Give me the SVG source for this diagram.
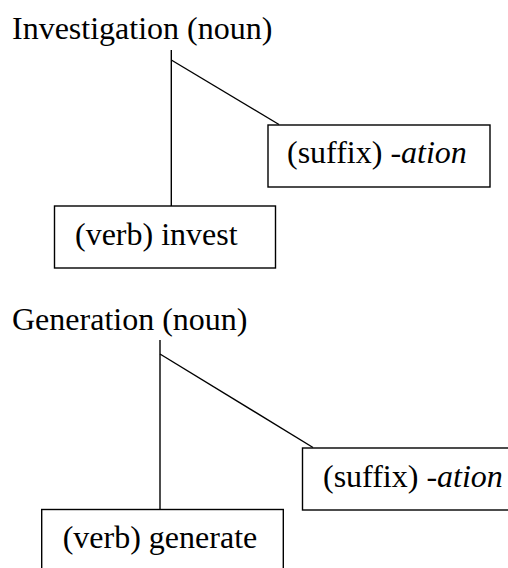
<svg xmlns="http://www.w3.org/2000/svg" width="508" height="568" viewBox="0 0 508 568">
<style>
text{font-family:"Liberation Serif","Times New Roman",serif;font-size:32px;fill:#000}
.box{fill:#fff;stroke:#000;stroke-width:1.4}
.ln{stroke:#000;stroke-width:1.4;fill:none}
.it{font-style:italic}
</style>
<rect width="508" height="568" fill="#fff"/>
<g id="connectors">
<line class="ln" x1="171.3" y1="50" x2="171.3" y2="206"/>
<line class="ln" x1="171.3" y1="60" x2="279" y2="124.5"/>
<line class="ln" x1="160" y1="340" x2="160" y2="509"/>
<line class="ln" x1="160" y1="354" x2="313" y2="447.5"/>
</g>
<g id="investigation">
<text x="12" y="39">Investigation (noun)</text>
</g>
<g id="suffix1">
<rect class="box" x="268" y="125" width="222" height="62"/>
<text x="287" y="163">(suffix) <tspan class="it">-ation</tspan></text>
</g>
<g id="invest">
<rect class="box" x="54.5" y="206" width="221" height="62"/>
<text x="75" y="245">(verb) invest</text>
</g>
<g id="generation">
<text x="12" y="330">Generation (noun)</text>
</g>
<g id="suffix2">
<rect class="box" x="302.5" y="448" width="220" height="62"/>
<text x="323" y="487">(suffix) <tspan class="it">-ation</tspan></text>
</g>
<g id="generate">
<rect class="box" x="41.7" y="509.5" width="241.6" height="70"/>
<text x="62.7" y="548">(verb) generate</text>
</g>
</svg>
